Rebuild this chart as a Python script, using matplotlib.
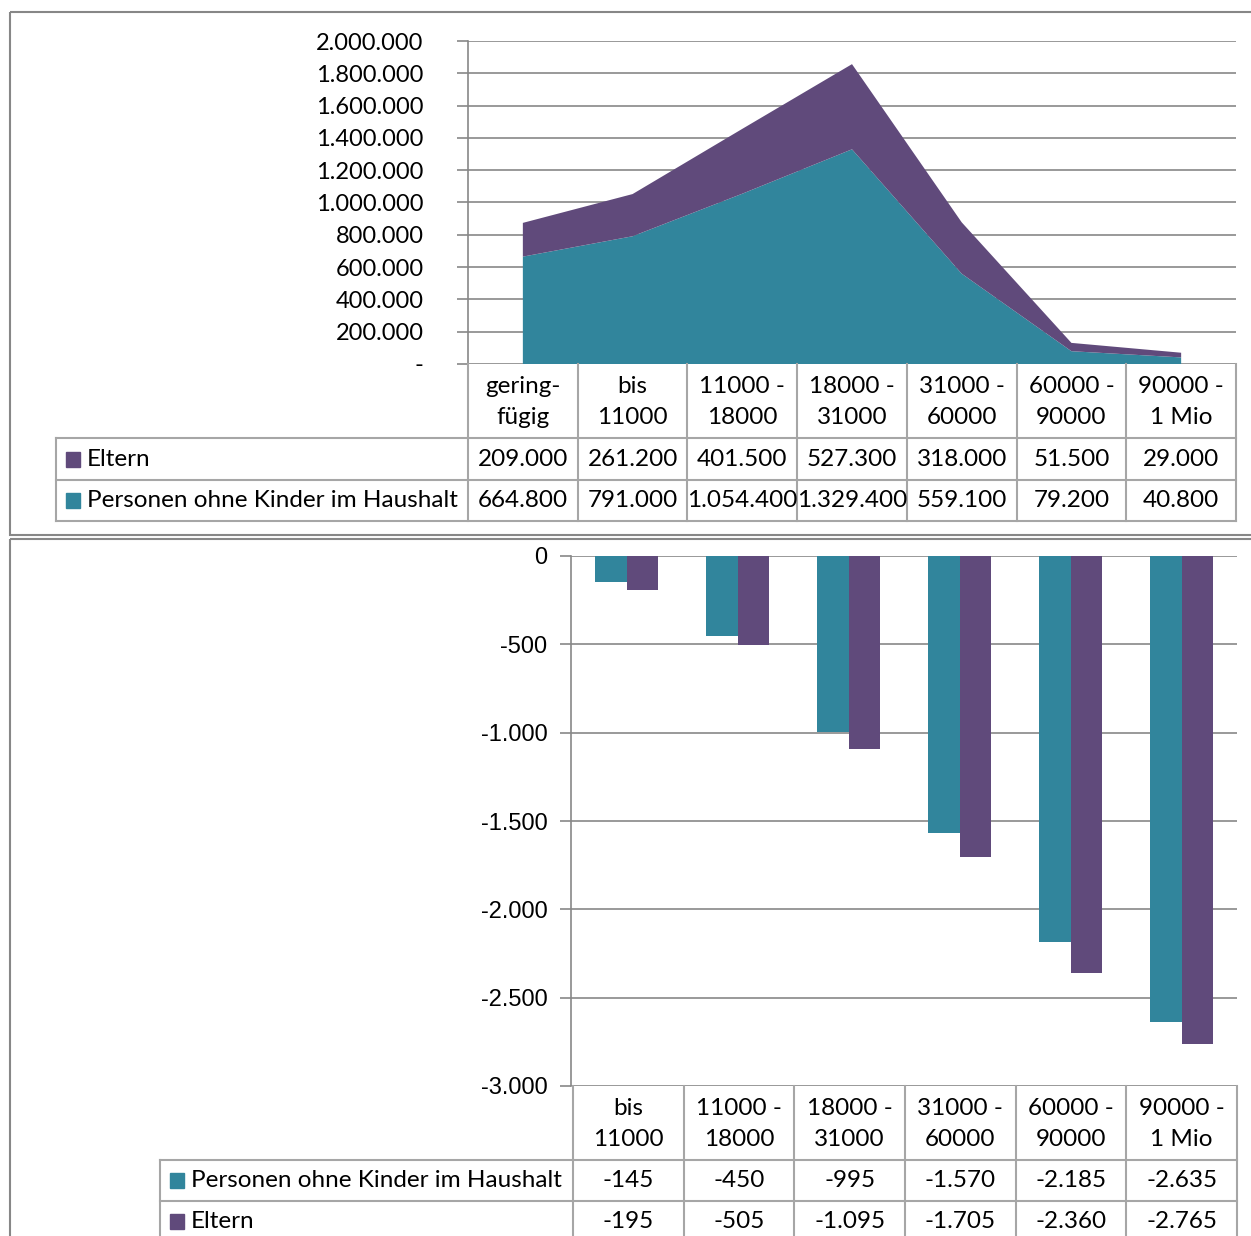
import matplotlib.pyplot as plt
from matplotlib.patches import Rectangle

# Daten
kat_oben = ['gering-\nfügig', 'bis\n11000', '11000 -\n18000', '18000 -\n31000',
            '31000 -\n60000', '60000 -\n90000', '90000 -\n1 Mio']
eltern_oben = [209000, 261200, 401500, 527300, 318000, 51500, 29000]
ohne_kinder_oben = [664800, 791000, 1054400, 1329400, 559100, 79200, 40800]

kat_unten = ['bis\n11000', '11000 -\n18000', '18000 -\n31000',
             '31000 -\n60000', '60000 -\n90000', '90000 -\n1 Mio']
ohne_kinder_unten = [-145, -450, -995, -1570, -2185, -2635]
eltern_unten = [-195, -505, -1095, -1705, -2360, -2765]

TEAL = '#31859C'
LILA = '#604A7B'
GRAU = '#878787'
TAB = '#A6A6A6'

plt.rcParams['font.family'] = ['Lato', 'DejaVu Sans']

W, H = 1251, 1236
fig = plt.figure(figsize=(W / 100, H / 100), dpi=100)


def box(x0, y0, x1, y1):
    return [x0 / W, 1 - y1 / H, (x1 - x0) / W, (y1 - y0) / H]


def de(v):
    if v == 0:
        return '-'
    return f'{v:,.0f}'.replace(',', '.')


# Rahmen der beiden Diagramme
rahmen = fig.add_axes([0, 0, 1, 1])
rahmen.set_xlim(0, W)
rahmen.set_ylim(H, 0)
rahmen.axis('off')
rahmen.add_patch(Rectangle((10, 12), W, 523, fill=False, ec=GRAU, lw=1.5))
rahmen.add_patch(Rectangle((10, 539), W, 720, fill=False, ec=GRAU, lw=1.5))


def tabelle(ax, kat, zeilen, links, x_achse, breite):
    n = len(kat)
    cw = breite / n
    xl = -0.5 - (x_achse - links) / cw
    ax.set_xlim(xl, n - 0.5)
    ax.set_ylim(3.8, 0)
    ax.axis('off')
    kw = dict(color=TAB, lw=1.5, clip_on=False)
    for i in range(n + 1):
        ax.plot([i - 0.5, i - 0.5], [0, 3.8], **kw)
    ax.plot([xl, xl], [1.8, 3.8], **kw)
    for y in [1.8, 2.8, 3.8]:
        ax.plot([xl, n - 0.5], [y, y], **kw)
    for i, k in enumerate(kat):
        ax.text(i, 0.92, k, ha='center', va='center', fontsize=17.5, linespacing=1.6)
    for r, (name, farbe, werte) in enumerate(zeilen):
        yc = 2.3 + r
        ax.add_patch(Rectangle((xl + 0.09, yc - 0.17), 0.13, 0.36, color=farbe, clip_on=False))
        ax.text(xl + 0.28, yc, name, ha='left', va='center', fontsize=17.5)
        for i, v in enumerate(werte):
            ax.text(i, yc, de(v), ha='center', va='center', fontsize=17.5)


# Oberes Diagramm: gestapelte Flächen
ax1 = fig.add_axes(box(468, 41, 1236, 364))
x1 = list(range(len(kat_oben)))
ax1.stackplot(x1, ohne_kinder_oben, eltern_oben, colors=[TEAL, LILA])
ax1.set_xlim(-0.5, len(kat_oben) - 0.5)
ax1.set_ylim(0, 2000000)
ticks1 = list(range(0, 2000001, 200000))
ax1.set_yticks(ticks1)
ax1.set_yticklabels([de(t) for t in ticks1], fontsize=17)
ax1.set_xticks([])
ax1.grid(axis='y', color=GRAU, lw=1.2)
ax1.set_axisbelow(True)
for s in ['top', 'right', 'bottom']:
    ax1.spines[s].set_visible(False)
ax1.spines['left'].set_color(GRAU)
ax1.spines['left'].set_linewidth(1.2)
ax1.tick_params(axis='y', length=8, color=GRAU, width=1.2, pad=24)

t1 = fig.add_axes(box(56, 364, 1236, 521))
tabelle(t1, kat_oben,
        [('Eltern', LILA, eltern_oben),
         ('Personen ohne Kinder im Haushalt', TEAL, ohne_kinder_oben)],
        56, 468, 1236 - 468)

# Unteres Diagramm: gruppierte Säulen
ax2 = fig.add_axes(box(571, 556, 1237, 1086))
x2 = list(range(len(kat_unten)))
bw = 0.285
ax2.bar([x - bw / 2 for x in x2], ohne_kinder_unten, width=bw, color=TEAL, zorder=3)
ax2.bar([x + bw / 2 for x in x2], eltern_unten, width=bw, color=LILA, zorder=3)
ax2.set_xlim(-0.5, len(kat_unten) - 0.5)
ax2.set_ylim(-3000, 0)
ticks2 = list(range(-3000, 1, 500))
ax2.set_yticks(ticks2)
ax2.set_yticklabels([de(t) if t != 0 else '0' for t in ticks2],
                    fontsize=17, family=['Liberation Sans', 'DejaVu Sans'])
ax2.set_xticks([])
ax2.grid(axis='y', color=GRAU, lw=1.2, zorder=0)
for s in ['top', 'right', 'bottom']:
    ax2.spines[s].set_visible(False)
ax2.spines['left'].set_color(GRAU)
ax2.spines['left'].set_linewidth(1.2)
ax2.tick_params(axis='y', length=8, color=GRAU, width=1.2, pad=9)

t2 = fig.add_axes(box(160, 1086, 1237, 1242))
tabelle(t2, kat_unten,
        [('Personen ohne Kinder im Haushalt', TEAL, ohne_kinder_unten),
         ('Eltern', LILA, eltern_unten)],
        160, 573, 1237 - 573)

fig.savefig('out.png', dpi=100)
